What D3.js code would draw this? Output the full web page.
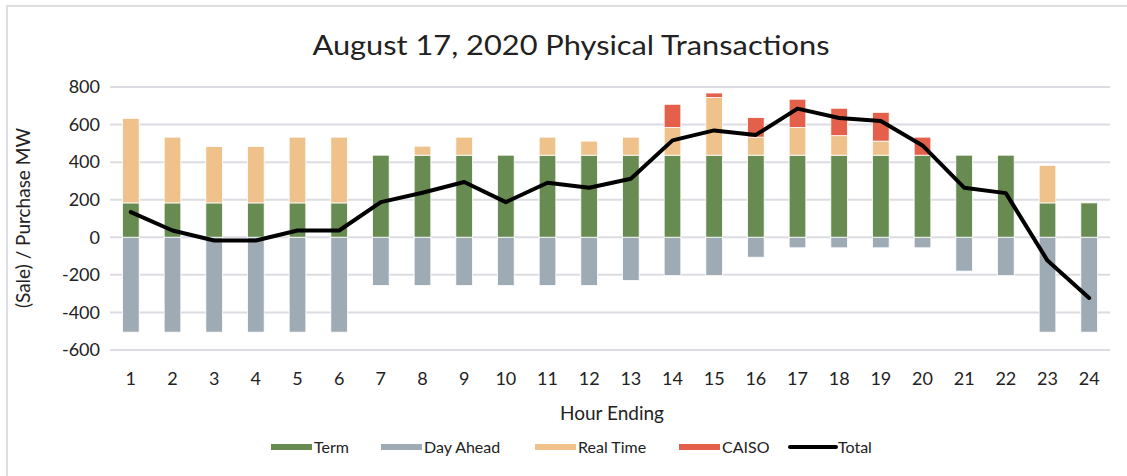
<!DOCTYPE html>
<html>
<head>
<meta charset="utf-8">
<script src="https://cdn.jsdelivr.net/npm/d3@7"></script>
<style>
  body { margin: 0; background: #fff; }
  text { font-family: Lato, "Open Sans", sans-serif; fill: #222; }
</style>
</head>
<body>
<div id="vis"></div>
<script>
// August 17, 2020 physical transactions — stacked bars + total line

var hours     = d3.range(1, 25);
var term      = [183, 183, 183, 183, 183, 183, 437, 437, 437, 437, 437, 437,
                 437, 437, 437, 437, 437, 437, 437, 437, 437, 437, 183, 183];
var dayAhead  = [-505, -505, -505, -505, -505, -505, -257, -257, -257, -257, -257, -257,
                 -230, -204, -204, -106, -56, -56, -56, -56, -180, -204, -505, -505];
var realTime  = [450, 350, 300, 300, 350, 350, 0, 48, 96, 0, 96, 75,
                 96, 147, 307, 96, 147, 104, 75, 0, 0, 0, 200, 0];
var caiso     = [0, 0, 0, 0, 0, 0, 0, 0, 0, 0, 0, 0,
                 0, 124, 24, 104, 151, 146, 153, 96, 0, 0, 0, 0];
var total     = [134, 36, -17, -17, 36, 36, 187, 237, 294, 187, 290, 264,
                 312, 516, 569, 545, 685, 635, 619, 489, 264, 235, -124, -323];
var yTicks    = [-600, -400, -200, 0, 200, 400, 600, 800];

var seriesNames  = ['Term', 'Day Ahead', 'Real Time', 'CAISO'];
var seriesColors = ['#678b51', '#9eabb5', '#efc28b', '#e5604a'];

var W = 1127, H = 476;
var plot = { left: 110, right: 1110, top: 87, bottom: 350 };

var svg = d3.select('#vis').append('svg')
  .attr('width', W)
  .attr('height', H);

// chart frame (only top and left edges are visible in the crop)
svg.append('line').attr('x1', 6).attr('x2', W).attr('y1', 6).attr('y2', 6)
  .attr('stroke', '#dddde2').attr('stroke-width', 2);
svg.append('line').attr('x1', 7).attr('x2', 7).attr('y1', 6).attr('y2', H)
  .attr('stroke', '#dddde2').attr('stroke-width', 2);

var x = d3.scaleBand()
  .domain(hours)
  .range([plot.left, plot.right])
  .paddingInner(0.6)
  .paddingOuter(0.3);

var y = d3.scaleLinear()
  .domain([-600, 800])
  .range([plot.bottom, plot.top]);

// gridlines
svg.append('g').selectAll('line')
  .data(yTicks)
  .join('line')
  .attr('x1', plot.left).attr('x2', plot.right)
  .attr('y1', d => y(d)).attr('y2', d => y(d))
  .attr('stroke', '#dcdce3')
  .attr('stroke-width', 2);

// y axis labels (plain hyphen for negatives, like the source)
var yAxis = svg.append('g')
  .attr('transform', `translate(${plot.left - 10},0)`)
  .call(d3.axisLeft(y).tickValues(yTicks).tickSize(0).tickPadding(0)
    .tickFormat(d => String(d)));
yAxis.select('.domain').remove();
yAxis.selectAll('text')
  .style('font-size', '18px')
  .style('font-family', 'Lato, sans-serif')
  .attr('fill', '#222');

// x axis labels
var xAxis = svg.append('g')
  .attr('transform', `translate(0,${plot.bottom + 22})`)
  .call(d3.axisBottom(x).tickSize(0).tickPadding(0));
xAxis.select('.domain').remove();
xAxis.selectAll('text')
  .style('font-size', '18px')
  .style('font-family', 'Lato, sans-serif')
  .attr('fill', '#222');

// stacked segments: positives stack upward from zero, day ahead goes down
var rows = hours.map((h, i) => {
  var segs = [];
  var base = 0;
  [term[i], realTime[i], caiso[i]].forEach((v, k) => {
    var key = [0, 2, 3][k];
    if (v > 0) { segs.push({ h: h, y0: base, y1: base + v, c: key }); base += v; }
  });
  if (dayAhead[i] < 0) segs.push({ h: h, y0: dayAhead[i], y1: 0, c: 1 });
  return segs;
}).flat();

svg.append('g').selectAll('rect')
  .data(rows)
  .join('rect')
  .attr('x', d => x(d.h))
  .attr('width', x.bandwidth())
  .attr('y', d => y(d.y1))
  .attr('height', d => y(d.y0) - y(d.y1))
  .attr('fill', d => seriesColors[d.c])
  .attr('stroke', '#fff')
  .attr('stroke-width', 0.8);

// total line
var line = d3.line()
  .x((d, i) => x(hours[i]) + x.bandwidth() / 2)
  .y(d => y(d));

svg.append('path')
  .datum(total)
  .attr('d', line)
  .attr('fill', 'none')
  .attr('stroke', '#000')
  .attr('stroke-width', 4)
  .attr('stroke-linejoin', 'round')
  .attr('stroke-linecap', 'round');

// titles
svg.append('text')
  .attr('x', 571).attr('y', 55)
  .attr('text-anchor', 'middle')
  .style('font-size', '27px')
  .attr('textLength', 517)
  .attr('lengthAdjust', 'spacingAndGlyphs')
  .text('August 17, 2020 Physical Transactions');

svg.append('text')
  .attr('x', 612).attr('y', 420)
  .attr('text-anchor', 'middle')
  .style('font-size', '19px')
  .text('Hour Ending');

svg.append('text')
  .attr('transform', 'translate(30,218) rotate(-90)')
  .attr('text-anchor', 'middle')
  .style('font-size', '19px')
  .text('(Sale) / Purchase MW');

// legend
var legendItems = [
  { name: 'Term',      color: seriesColors[0], x: 271 },
  { name: 'Day Ahead', color: seriesColors[1], x: 381 },
  { name: 'Real Time', color: seriesColors[2], x: 535 },
  { name: 'CAISO',     color: seriesColors[3], x: 679 },
  { name: 'Total',     color: '#000',          x: 790, isLine: true }
];

var legend = svg.append('g').attr('class', 'legend');
legendItems.forEach(it => {
  if (it.isLine) {
    legend.append('line')
      .attr('x1', it.x).attr('x2', it.x + 46)
      .attr('y1', 447).attr('y2', 447)
      .attr('stroke', it.color).attr('stroke-width', 4)
      .attr('stroke-linecap', 'round');
  } else {
    legend.append('rect')
      .attr('x', it.x).attr('y', 444)
      .attr('width', 41).attr('height', 6)
      .attr('fill', it.color);
  }
  legend.append('text')
    .attr('x', it.isLine ? it.x + 48 : it.x + 43)
    .attr('y', 453)
    .style('font-size', '16px')
    .text(it.name);
});
</script>
</body>
</html>
